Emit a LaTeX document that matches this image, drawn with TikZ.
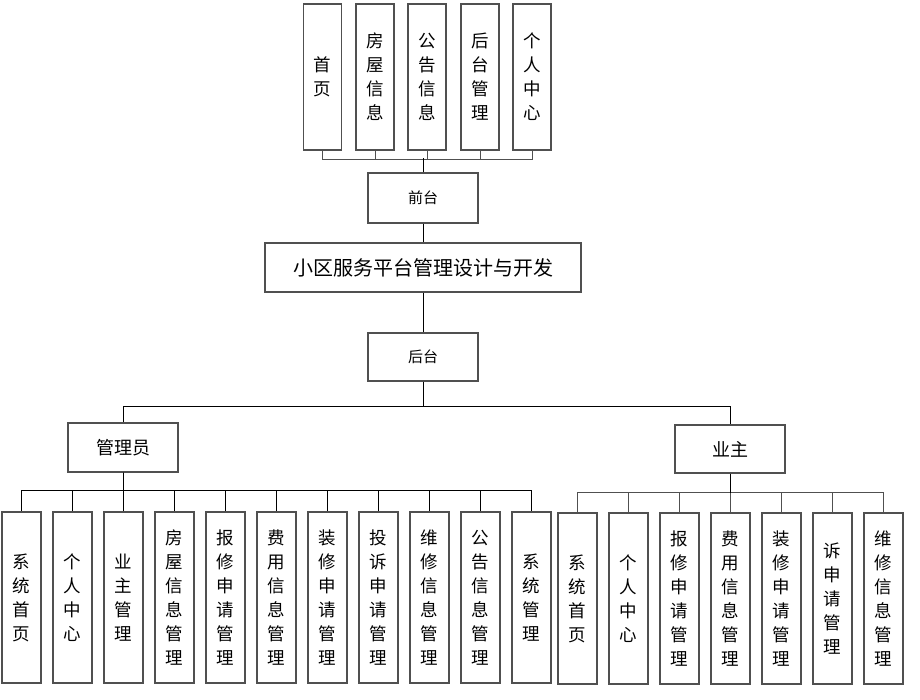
\documentclass[tikz,border=0pt]{standalone}
\usepackage{fontspec}
\newfontfamily\cjk{Noto Sans CJK SC}
\definecolor{boxline}{HTML}{505050}
\begin{document}
\begin{tikzpicture}[x=1pt,y=-1pt,
  box/.style={draw=boxline,line width=1.2pt,inner sep=0pt,fill=white},
  vbox/.style={box,minimum width=39pt,minimum height=171pt,align=center,
     font={\cjk\fontsize{17.5}{24}\selectfont}},
  tbox/.style={box,minimum width=38pt,minimum height=146pt,align=center,
     font={\cjk\fontsize{17.5}{24}\selectfont}},
  hbox/.style={box,minimum width=110pt,minimum height=49pt,
     font={\cjk\fontsize{18}{22}\selectfont}},
  conn/.style={draw=black,line width=1pt},
  gconn/.style={draw=boxline,line width=1pt}]
\useasboundingbox (0,0) rectangle (920,700);
% top
\node[tbox] (t1) at (322.5,77) {首\\页};
\node[tbox] (t2) at (375,77) {房\\屋\\信\\息};
\node[tbox] (t3) at (427,77) {公\\告\\信\\息};
\node[tbox] (t4) at (480,77) {后\\台\\管\\理};
\node[tbox] (t5) at (532,77) {个\\人\\中\\心};
\node[hbox,minimum height=50pt,font={\cjk\fontsize{15}{18}\selectfont}] (qt) at (423,198) {前台};
\node[box,minimum width=316pt,minimum height=49pt,font={\cjk\fontsize{20}{24}\selectfont}] (main) at (423,267.5) {小区服务平台管理设计与开发};
\node[hbox,minimum height=48pt,font={\cjk\fontsize{15}{18}\selectfont}] (ht) at (423,357) {后台};
\node[hbox] (gly) at (123,447.5) {管理员};
\node[hbox,minimum height=48pt] (yz) at (730,449) {业主};
% admin children
\node[vbox] (a1) at (21.5,597.5) {系\\统\\首\\页};
\node[vbox] (a2) at (72.5,597.5) {个\\人\\中\\心};
\node[vbox] (a3) at (123.5,597.5) {业\\主\\管\\理};
\node[vbox] (a4) at (174.5,597.5) {房\\屋\\信\\息\\管\\理};
\node[vbox] (a5) at (225.5,597.5) {报\\修\\申\\请\\管\\理};
\node[vbox] (a6) at (276.5,597.5) {费\\用\\信\\息\\管\\理};
\node[vbox] (a7) at (327.5,597.5) {装\\修\\申\\请\\管\\理};
\node[vbox] (a8) at (378.5,597.5) {投\\诉\\申\\请\\管\\理};
\node[vbox] (a9) at (429.5,597.5) {维\\修\\信\\息\\管\\理};
\node[vbox] (a10) at (480.5,597.5) {公\\告\\信\\息\\管\\理};
\node[vbox] (a11) at (531.5,597.5) {系\\统\\管\\理};
% owner children
\node[vbox] (b1) at (577.5,598.5) {系\\统\\首\\页};
\node[vbox] (b2) at (628.5,598.5) {个\\人\\中\\心};
\node[vbox] (b3) at (679.5,598.5) {报\\修\\申\\请\\管\\理};
\node[vbox] (b4) at (730.5,598.5) {费\\用\\信\\息\\管\\理};
\node[vbox] (b5) at (781.5,598.5) {装\\修\\申\\请\\管\\理};
\node[vbox] (b6) at (832.5,598.5) {诉\\申\\请\\管\\理};
\node[vbox] (b7) at (883.5,598.5) {维\\修\\信\\息\\管\\理};
% connectors top
\foreach \i in {1,...,5} \draw[gconn] (t\i.south) -- ++(0,9) -| (qt.north);
\draw[conn] (qt.north) -- ++(0,-14);
\draw[conn] (qt.south) -- (main.north);
\draw[conn] (main.south) -- (ht.north);
\draw[conn] (ht.south) -- ++(0,25) -| (gly.north);
\draw[conn] (ht.south) -- ++(0,25) -| (yz.north);
\foreach \i in {1,...,11} \draw[conn] (gly.south) -- ++(0,18) -| (a\i.north);
\foreach \i in {1,...,7} \draw[gconn] (yz.south) -- ++(0,19) -| (b\i.north);
\draw[conn] (yz.south) -- ++(0,19);
\end{tikzpicture}
\end{document}
